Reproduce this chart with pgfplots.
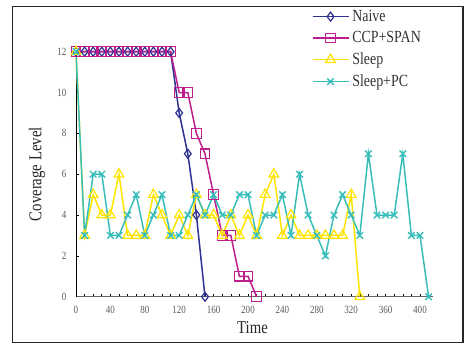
\documentclass[border=0pt]{standalone}
\usepackage{fontspec}
\setmainfont[FakeStretch=0.82]{Liberation Serif}
\usepackage{pgfplots}
\pgfplotsset{compat=1.18}
\definecolor{cnavy}{RGB}{46,49,146}
\definecolor{cmag}{RGB}{190,30,140}
\definecolor{cyel}{RGB}{255,228,0}
\definecolor{cteal}{RGB}{56,190,186}
\begin{document}
\begin{tikzpicture}[x=1pt,y=1pt]
\useasboundingbox (0,0) rectangle (464,343);
\draw[line width=1.3pt, black!85] (12.8,0.8) rectangle (463,336.3);
\begin{axis}[
  at={(76pt,46.3pt)}, anchor=south west,
  scale only axis, width=356.9pt, height=245pt,
  xmin=0, xmax=415, ymin=0, ymax=12,
  clip=false,
  axis lines*=left,
  axis line style={-},
  x axis line style={line width=1.3pt, black!60},
  y axis line style={line width=0.8pt, black},
  xtick={0,40,...,400}, minor x tick num=3,
  ytick={0,2,...,12},
  tick align=inside,
  major tick length=3pt, minor tick length=3pt,
  every tick/.style={black, line width=0.6pt},
  /pgf/number format/assume math mode=true,
  ticklabel style={font=\fontsize{11}{11}\selectfont, text=black!65},
  xticklabel style={yshift=-6pt},
  yticklabel style={xshift=-6pt},
  xlabel={Time}, ylabel={Coverage Level},
  label style={font=\fontsize{18}{18}\selectfont, text=black!85},
  xlabel style={at={(axis description cs:0.4946,-0.128)}, anchor=center},
  ylabel style={at={(axis description cs:-0.109,0.5)}, anchor=center},
  legend style={at={(axis description cs:0.66,1.178)}, anchor=north west,
    draw=none, fill=none, inner sep=0pt, row sep=4.6pt,
    font=\fontsize{17}{19}\selectfont, text=black!80,
    nodes={inner xsep=3pt}},
  legend cell align=left,
  legend image code/.code={\draw[mark repeat=2,mark phase=2] plot coordinates {(0pt,0pt) (18pt,0pt) (36pt,0pt)};},
]
\addplot[cnavy, line width=1.5pt, mark=diamond, mark size=4.5pt, mark options={solid, line width=1.2pt}] coordinates {
(0,12)(10,12)(20,12)(30,12)(40,12)(50,12)(60,12)(70,12)(80,12)(90,12)(100,12)(110,12)
(120,9)(130,7)(140,4)(150,0)};
\addlegendentry{Naive}
\addplot[cmag, line width=1.5pt, mark=square, mark size=4.8pt, mark options={solid, line width=1.2pt}] coordinates {
(0,12)(10,12)(20,12)(30,12)(40,12)(50,12)(60,12)(70,12)(80,12)(90,12)(100,12)(110,12)
(120,10)(130,10)(140,8)(150,7)(160,5)(170,3)(180,3)(190,1)(200,1)(210,0)};
\addlegendentry{CCP+SPAN}
\addplot[cyel, line width=1.5pt, mark=triangle, mark size=5.5pt, mark options={solid, line width=1.2pt}] coordinates {
(0,12)(10,3)(20,5)(30,4)(40,4)(50,6)(60,3)(70,3)(80,3)(90,5)(100,4)(110,3)(120,4)(130,3)
(140,5)(150,4)(160,4)(170,3)(180,4)(190,3)(200,4)(210,3)(220,5)(230,6)(240,3)(250,4)
(260,3)(270,3)(280,3)(290,3)(300,3)(310,3)(320,5)(330,0)};
\addlegendentry{Sleep}
\addplot[cteal, line width=1.5pt, mark=x, mark size=4.6pt, mark options={solid, line width=1.4pt}] coordinates {
(0,12)(10,3)(20,6)(30,6)(40,3)(50,3)(60,4)(70,5)(80,3)(90,4)(100,5)(110,3)(120,3)(130,4)
(140,5)(150,4)(160,5)(170,4)(180,4)(190,5)(200,5)(210,3)(220,4)(230,4)(240,5)(250,3)
(260,6)(270,4)(280,3)(290,2)(300,4)(310,5)(320,4)(330,3)(340,7)(350,4)(360,4)(370,4)
(380,7)(390,3)(400,3)(410,0)};
\addlegendentry{Sleep+PC}
\end{axis}
\end{tikzpicture}
\end{document}
